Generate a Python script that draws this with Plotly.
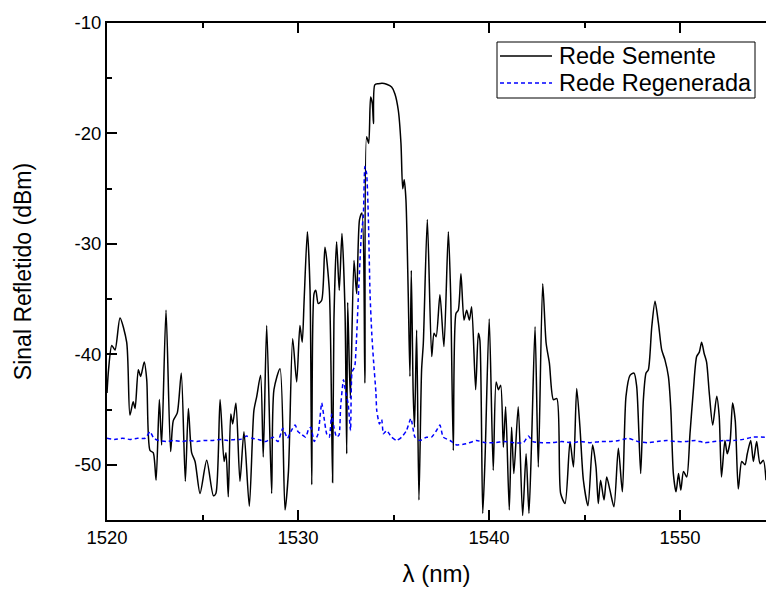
import plotly.graph_objects as go

# Rede Semente (black solid)
semente_x = [1520.00,1520.08,1520.25,1520.42,1520.68,1521.03,1521.20,1521.37,1521.47,1521.64,1521.76,1521.95,1522.08,1522.25,1522.42,1522.57,1522.74,1522.86,1523.09,1523.33,1523.47,1523.68,1523.89,1524.10,1524.26,1524.43,1524.61,1524.87,1525.22,1525.57,1525.70,1525.92,1526.13,1526.23,1526.35,1526.48,1526.58,1526.75,1526.96,1527.17,1527.45,1527.69,1527.84,1528.04,1528.18,1528.36,1528.62,1528.74,1529.06,1529.32,1529.50,1529.72,1529.93,1530.10,1530.22,1530.32,1530.49,1530.63,1530.72,1530.84,1530.93,1531.06,1531.24,1531.41,1531.64,1531.81,1531.88,1532.02,1532.16,1532.30,1532.46,1532.55,1532.60,1532.74,1532.93,1533.07,1533.22,1533.35,1533.50,1533.59,1533.70,1533.80,1533.89,1533.95,1534.02,1534.20,1534.40,1534.64,1534.90,1535.07,1535.25,1535.39,1535.48,1535.56,1535.65,1535.77,1535.86,1535.93,1536.03,1536.10,1536.21,1536.33,1536.47,1536.56,1536.77,1537.00,1537.12,1537.23,1537.43,1537.64,1537.87,1537.99,1538.13,1538.27,1538.39,1538.53,1538.69,1538.83,1538.97,1539.09,1539.30,1539.44,1539.52,1539.67,1539.79,1540.01,1540.22,1540.37,1540.49,1540.61,1540.75,1540.87,1541.06,1541.18,1541.30,1541.53,1541.76,1541.94,1542.09,1542.23,1542.41,1542.58,1542.81,1542.99,1543.16,1543.37,1543.55,1543.75,1543.98,1544.24,1544.42,1544.59,1544.76,1544.94,1545.18,1545.42,1545.60,1545.72,1545.84,1546.02,1546.16,1546.33,1546.54,1546.77,1546.98,1547.17,1547.38,1547.59,1547.73,1547.94,1548.08,1548.22,1548.34,1548.52,1548.69,1548.87,1549.04,1549.21,1549.39,1549.52,1549.65,1549.79,1549.92,1550.04,1550.18,1550.35,1550.52,1550.70,1550.87,1551.01,1551.13,1551.26,1551.39,1551.53,1551.71,1551.92,1552.05,1552.17,1552.35,1552.47,1552.62,1552.75,1552.89,1553.05,1553.23,1553.40,1553.52,1553.70,1553.84,1554.01,1554.19,1554.36,1554.50]
semente_y = [-43.5,-41.4,-39.2,-39.6,-36.7,-38.9,-45.5,-44.3,-44.9,-41.4,-42.0,-40.7,-42.3,-48.7,-48.9,-51.4,-44.1,-48.2,-36.0,-48.8,-46.0,-45.3,-41.7,-51.5,-44.9,-48.9,-49.7,-52.6,-49.6,-52.8,-52.6,-44.1,-49.7,-48.9,-52.9,-45.4,-46.3,-44.4,-51.5,-47.0,-53.75,-45.1,-43.8,-41.9,-49.3,-37.4,-52.6,-43.2,-41.3,-54.1,-50.6,-38.6,-42.5,-37.4,-38.9,-35.1,-28.9,-34.2,-51.8,-34.5,-34.2,-35.4,-35.1,-30.3,-34.2,-51.6,-36.9,-29.8,-34.2,-29.05,-36.0,-49.0,-35.3,-44.0,-31.5,-34.5,-27.8,-27.2,-42.6,-20.3,-20.9,-16.7,-17.3,-19.1,-15.6,-15.5,-15.45,-15.55,-15.8,-16.4,-17.9,-20.9,-25.0,-24.2,-26.0,-34.5,-42.0,-32.4,-43.5,-46.6,-37.8,-53.2,-41.4,-39.0,-27.8,-40.2,-38.1,-38.4,-34.6,-39.3,-28.9,-34.5,-48.7,-36.3,-36.0,-32.7,-36.9,-36.0,-36.9,-35.7,-43.2,-38.1,-38.7,-54.4,-49.5,-36.8,-50.5,-42.5,-43.2,-42.8,-48.4,-44.75,-54.1,-46.6,-50.8,-44.75,-54.6,-49.0,-54.4,-47.8,-37.5,-50.2,-33.6,-39.0,-40.8,-44.1,-44.0,-52.6,-53.5,-47.9,-50.2,-43.1,-46.6,-51.4,-53.7,-48.2,-50.2,-53.5,-51.4,-53.2,-51.1,-52.3,-53.8,-48.5,-52.45,-43.8,-41.9,-41.7,-42.9,-50.8,-44.1,-41.7,-41.4,-37.5,-35.2,-37.2,-39.6,-40.5,-42.0,-45.05,-50.8,-52.45,-50.8,-52.3,-50.6,-51.1,-47.2,-43.2,-40.2,-39.8,-38.9,-39.9,-40.7,-43.5,-46.4,-43.8,-45.6,-51.1,-47.8,-49.0,-47.9,-44.4,-46.0,-52.2,-49.7,-50.0,-49.0,-47.8,-49.7,-47.9,-49.9,-49.6,-51.4]

# Rede Regenerada (blue dashed)
regen_x = [1520.00,1520.40,1520.80,1521.20,1521.60,1522.00,1522.25,1522.45,1522.70,1523.10,1523.50,1523.90,1524.30,1524.70,1525.10,1525.50,1525.90,1526.30,1526.70,1527.00,1527.30,1527.60,1527.90,1528.30,1528.70,1528.95,1529.20,1529.45,1529.65,1529.85,1530.00,1530.15,1530.40,1530.55,1530.67,1530.85,1531.05,1531.24,1531.36,1531.50,1531.64,1531.76,1531.88,1532.02,1532.15,1532.23,1532.38,1532.50,1532.62,1532.75,1532.83,1532.97,1533.06,1533.18,1533.32,1533.42,1533.50,1533.59,1533.68,1533.77,1533.86,1533.95,1534.08,1534.12,1534.26,1534.38,1534.47,1534.64,1534.90,1535.16,1535.42,1535.68,1535.91,1536.12,1536.38,1536.73,1536.99,1537.25,1537.43,1537.60,1537.96,1538.30,1538.80,1539.35,1539.80,1540.30,1540.80,1541.30,1541.80,1542.06,1542.30,1542.80,1543.30,1543.80,1544.30,1544.80,1545.30,1545.80,1546.30,1546.80,1547.30,1547.80,1548.30,1548.80,1549.30,1549.80,1550.30,1550.80,1551.30,1551.80,1552.30,1552.80,1553.30,1553.80,1554.50]
regen_y = [-47.6,-47.7,-47.6,-47.7,-47.6,-47.6,-47.0,-47.6,-47.8,-47.9,-47.8,-47.9,-47.8,-47.9,-47.8,-47.8,-47.7,-47.8,-47.7,-47.7,-47.4,-47.6,-47.7,-47.9,-47.5,-47.9,-46.7,-47.6,-46.9,-46.4,-47.0,-47.2,-47.5,-46.8,-46.6,-47.9,-47.2,-44.4,-45.7,-47.2,-47.5,-45.4,-46.6,-47.5,-47.3,-44.75,-42.3,-43.5,-44.4,-46.9,-41.6,-41.1,-38.7,-33.9,-29.05,-27.5,-23.0,-23.6,-27.5,-34.5,-38.1,-40.5,-43.5,-45.05,-46.3,-45.9,-47.2,-46.9,-47.5,-47.8,-47.5,-46.9,-45.8,-47.5,-47.8,-47.5,-47.5,-46.9,-46.4,-47.5,-47.8,-48.2,-48.1,-47.8,-48.0,-48.0,-47.9,-48.0,-48.0,-47.4,-47.9,-48.0,-48.0,-47.9,-48.0,-47.9,-48.0,-47.9,-47.9,-47.8,-47.6,-47.9,-48.0,-47.9,-47.8,-47.9,-47.9,-47.8,-48.0,-47.9,-47.8,-47.8,-47.7,-47.5,-47.5]

series_names = ["Rede Semente", "Rede Regenerada"]
x_tickvals = [1520, 1530, 1540, 1550]
x_ticktext = ["1520", "1530", "1540", "1550"]
y_tickvals = [-10, -20, -30, -40, -50]
y_ticktext = ["-10", "-20", "-30", "-40", "-50"]

FONT = "Liberation Sans, Arial, sans-serif"
W, H = 766, 590
ML, MR, MT, MB = 107, 0, 23, 70
PW, PH = W - ML - MR, H - MT - MB

def px2paper(px, py):
    return (px - ML) / PW, (H - MB - py) / PH

black_line = dict(color="black", width=1.5)
blue_line = dict(color="#0000ff", width=1.5, dash="4px,3px")

fig = go.Figure()
fig.add_trace(go.Scatter(x=semente_x, y=semente_y, mode="lines", name=series_names[0],
                         line=dict(shape="spline", smoothing=0.7, **black_line)))
fig.add_trace(go.Scatter(x=regen_x, y=regen_y, mode="lines", name=series_names[1],
                         line=dict(shape="spline", smoothing=0.5, **blue_line)))

# custom legend box (matches the reference's compact legend)
bx0, by0 = px2paper(497, 42)
bx1, by1 = px2paper(755, 98)
shapes = [dict(type="rect", xref="paper", yref="paper", x0=bx0, x1=bx1, y0=by1, y1=by0,
               line=dict(color="black", width=1), fillcolor="white", layer="above")]
annotations = []
for i, (name, ln) in enumerate(zip(series_names, [black_line, blue_line])):
    rowy = 56 + 27 * i
    lx0, ly = px2paper(500, rowy)
    lx1, _ = px2paper(552, rowy)
    shapes.append(dict(type="line", xref="paper", yref="paper", x0=lx0, x1=lx1, y0=ly, y1=ly,
                       line=dict(color=ln["color"], width=1.3, dash=ln.get("dash", "solid")),
                       layer="above"))
    tx, _ = px2paper(557, rowy)
    annotations.append(dict(xref="paper", yref="paper", x=tx, y=ly, xanchor="left", yanchor="middle",
                            text=name, showarrow=False,
                            font=dict(family=FONT, size=23.5, color="black")))

fig.update_layout(
    width=W, height=H,
    margin=dict(l=ML, r=MR, t=MT, b=MB),
    paper_bgcolor="white", plot_bgcolor="white",
    font=dict(family=FONT, color="black", size=19),
    showlegend=False,
    shapes=shapes, annotations=annotations,
    xaxis=dict(range=[1520, 1554.5], tickvals=x_tickvals, ticktext=x_ticktext,
               showgrid=False, zeroline=False, showline=True, linecolor="black", linewidth=2,
               mirror="ticks", ticks="inside", ticklen=10, tickwidth=2, tickcolor="black",
               minor=dict(dtick=5, tick0=1520, ticks="inside", ticklen=5, tickwidth=2,
                          tickcolor="black", showgrid=False),
               tickfont=dict(family=FONT, size=18.5),
               title=dict(text="λ (nm)", font=dict(family=FONT, size=24), standoff=18)),
    yaxis=dict(range=[-55, -10], tickvals=y_tickvals, ticktext=y_ticktext,
               showgrid=False, zeroline=False, showline=True, linecolor="black", linewidth=2,
               mirror=False, ticks="inside", ticklen=10, tickwidth=2, tickcolor="black",
               minor=dict(dtick=5, tick0=-55, ticks="inside", ticklen=5, tickwidth=2,
                          tickcolor="black", showgrid=False),
               tickfont=dict(family=FONT, size=18.5),
               title=dict(text="Sinal Refletido (dBm)", font=dict(family=FONT, size=23), standoff=36)),
)

fig.write_html("out.html")
